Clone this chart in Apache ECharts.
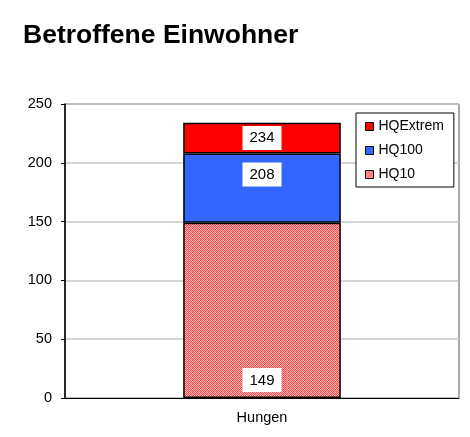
<!DOCTYPE html>
<html>
<head>
<meta charset="utf-8">
<script src="https://cdn.jsdelivr.net/npm/echarts@6/dist/echarts.min.js"></script>
<style>
  html, body { margin: 0; padding: 0; background: #fff; }
  #chart { width: 470px; height: 437px; }
</style>
</head>
<body>
<div id="chart"></div>
<script>
const categories = ['Hungen']
// cumulative totals as printed on the bar
const hq10Total = [149]
const hq100Total = [208]
const hqExtremTotal = [234]
const yTicks = [0, 50, 100, 150, 200, 250]

// segment heights for the stack
const hq10 = hq10Total
const hq100 = hq100Total.map((v, i) => v - hq10Total[i])
const hqExtrem = hqExtremTotal.map((v, i) => v - hq100Total[i])

// dithered red/white fill like the original HQ10 hatch
const makePattern = () => {
  const c = document.createElement('canvas')
  c.width = 4
  c.height = 4
  const ctx = c.getContext('2d')
  const grid = [
    ['#ff3c3c', '#ffb8b8', '#ff5a5a', '#ffd2d2'],
    ['#ffc4c4', '#ff4848', '#ffa8a8', '#ff3030'],
    ['#ff5050', '#ffd8d8', '#ff3838', '#ffb0b0'],
    ['#ffa0a0', '#ff2c2c', '#ffc8c8', '#ff5c5c']
  ]
  for (let y = 0; y < 4; y++) {
    for (let x = 0; x < 4; x++) {
      ctx.fillStyle = grid[y][x]
      ctx.fillRect(x, y, 1, 1)
    }
  }
  return c
}

const font = 'Liberation Sans, Arial, sans-serif'

const labelBox = {
  show: true,
  color: '#000',
  fontSize: 15,
  fontFamily: font,
  backgroundColor: '#fff',
  padding: [5, 7, 4, 7]
}

const chart = echarts.init(document.getElementById('chart'))

const option = {
  animation: false,
  title: {
    text: 'Betroffene Einwohner',
    left: 18,
    top: 17,
    textStyle: {
      fontSize: 26.5,
      fontWeight: 'bold',
      color: '#000',
      fontFamily: font
    }
  },
  legend: {
    orient: 'vertical',
    left: 356,
    top: 113,
    data: ['HQExtrem', 'HQ100', 'HQ10'],
    icon: 'rect',
    itemWidth: 8,
    itemHeight: 8,
    itemGap: 9,
    padding: [6, 10, 5, 9],
    borderColor: '#000',
    borderWidth: 1,
    backgroundColor: '#fff',
    itemStyle: { borderColor: '#000', borderWidth: 1 },
    textStyle: {
      fontSize: 14,
      lineHeight: 15,
      color: '#000',
      fontFamily: font
    }
  },
  grid: {
    left: 65,
    right: 11,
    top: 104,
    bottom: 39,
    show: true,
    borderColor: '#555',
    borderWidth: 1
  },
  xAxis: {
    type: 'category',
    data: categories,
    axisLine: { lineStyle: { color: '#000', width: 1 } },
    axisTick: { show: false },
    axisLabel: {
      color: '#000',
      fontSize: 14.5,
      margin: 12,
      fontFamily: font
    }
  },
  yAxis: {
    type: 'value',
    min: yTicks[0],
    max: yTicks[yTicks.length - 1],
    interval: 50,
    axisLine: { show: true, lineStyle: { color: '#000', width: 1.5 } },
    axisTick: { show: true, length: 4, lineStyle: { color: '#000' } },
    splitLine: { lineStyle: { color: '#c8c8c8', width: 1.5 } },
    axisLabel: {
      color: '#000',
      fontSize: 14.5,
      margin: 13,
      fontFamily: font
    }
  },
  series: [
    {
      name: 'HQ10',
      type: 'bar',
      stack: 'total',
      barWidth: '40%',
      data: hq10,
      itemStyle: {
        color: { image: makePattern(), repeat: 'repeat' },
        borderColor: '#000',
        borderWidth: 1.5
      },
      label: {
        ...labelBox,
        position: 'insideBottom',
        distance: 6,
        formatter: p => hq10Total[p.dataIndex]
      }
    },
    {
      name: 'HQ100',
      type: 'bar',
      stack: 'total',
      data: hq100,
      itemStyle: { color: '#3366ff', borderColor: '#000', borderWidth: 1.5 },
      label: {
        ...labelBox,
        position: 'insideTop',
        distance: 9,
        formatter: p => hq100Total[p.dataIndex]
      }
    },
    {
      name: 'HQExtrem',
      type: 'bar',
      stack: 'total',
      data: hqExtrem,
      itemStyle: { color: '#ff0000', borderColor: '#000', borderWidth: 1.5 },
      label: {
        ...labelBox,
        position: 'inside',
        formatter: p => hqExtremTotal[p.dataIndex]
      }
    }
  ]
}

chart.setOption(option)
window.addEventListener('resize', () => chart.resize())
</script>
</body>
</html>
